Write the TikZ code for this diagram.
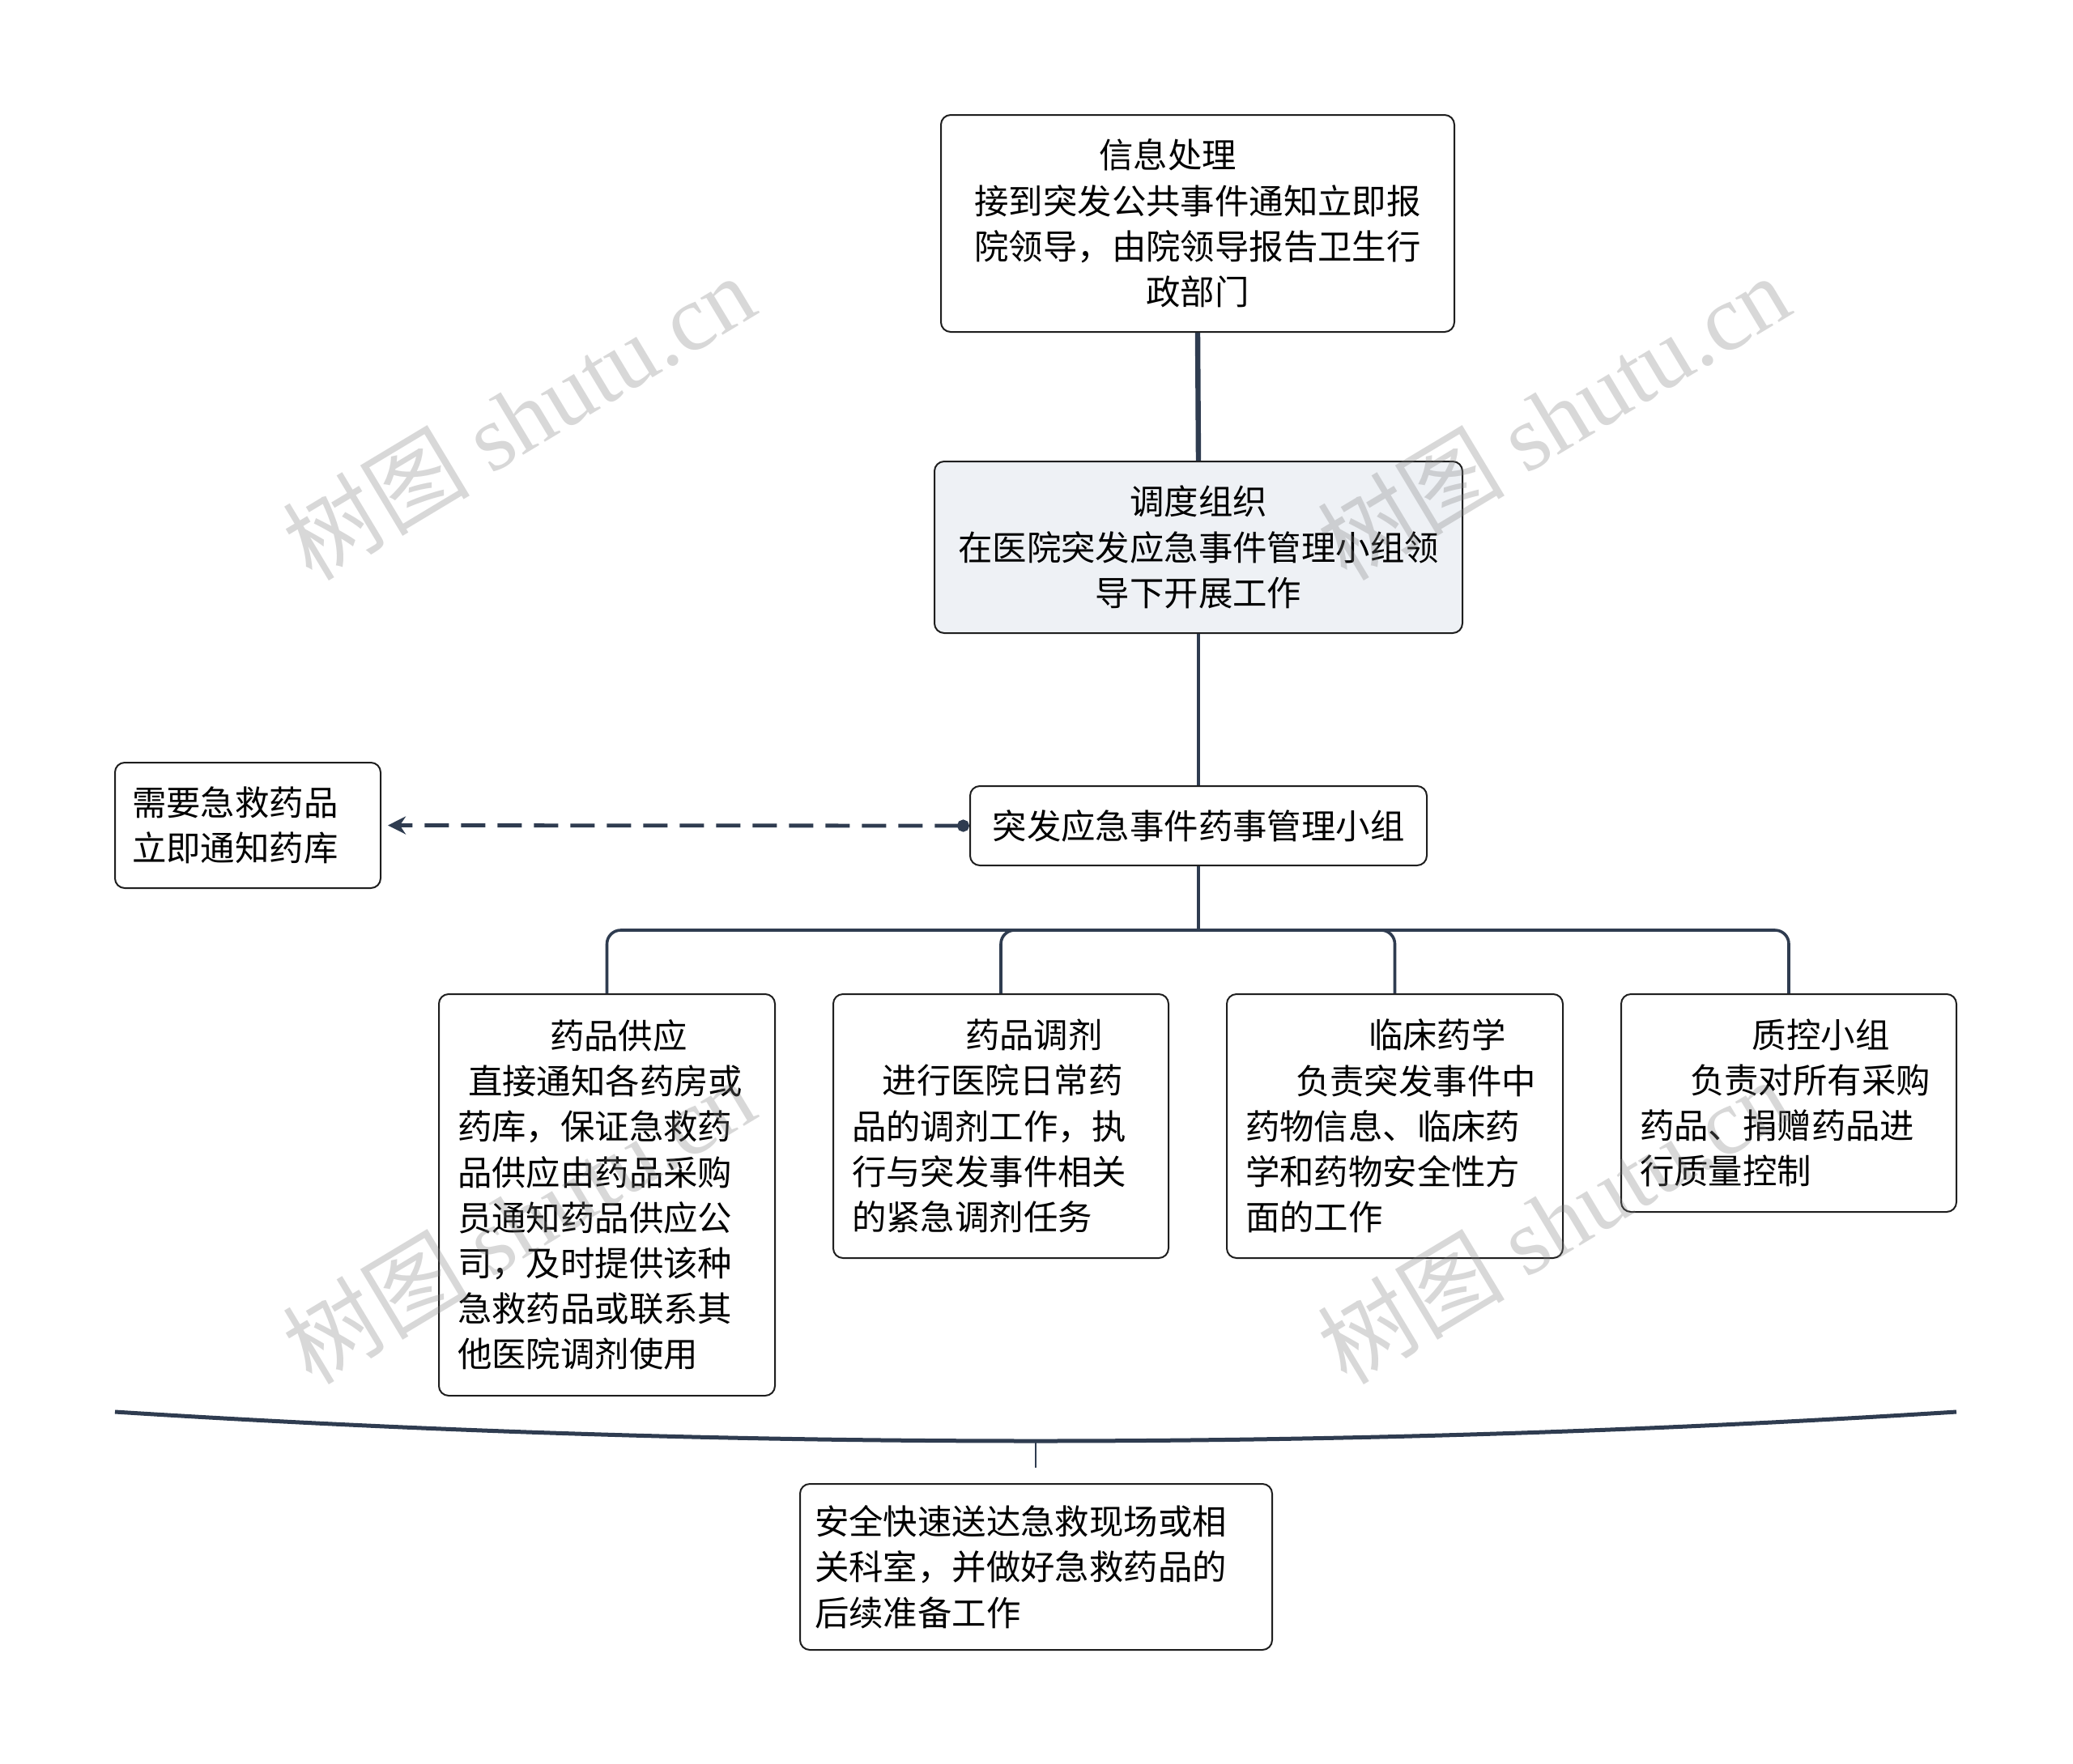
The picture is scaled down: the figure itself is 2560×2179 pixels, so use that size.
\documentclass[tikz,border=0pt]{standalone}
\usepackage{fontspec}
\setmainfont{Noto Sans CJK SC}
\newfontfamily\wmfont{Liberation Serif}
\newfontfamily\wmcjk{Noto Sans CJK SC}
\usetikzlibrary{arrows.meta}
\definecolor{lineC}{HTML}{2F3C50}
\definecolor{boxC}{HTML}{1E1E1E}
\definecolor{fillB}{HTML}{EEF1F5}
\tikzset{
  box/.style={draw=boxC, line width=1pt, rounded corners=6pt, inner ysep=0pt,
    font=\fontsize{21.2pt}{28.1pt}\selectfont, text=black},
  cbox/.style={box, align=center},
  lbox/.style={box, align=left},
  conn/.style={draw=lineC, line width=1.8pt},
  wm/.style={text=black!50, text opacity=0.3, rotate=31,
    font=\fontsize{58pt}{60pt}\selectfont}
}
\begin{document}
\begin{tikzpicture}[x=0.5pt,y=-0.5pt]
\useasboundingbox[fill=white] (0,0) rectangle (2560,2179);

% nodes
\node[cbox, minimum width=317pt, minimum height=134pt, text width=297pt, inner xsep=10pt]
  (n1) at (1479,276) {信息处理\rule{37pt}{0pt}\\ 接到突发公共事件通知立即报\\院领导，由院领导报告卫生行\\政部门};
\node[cbox, fill=fillB, minimum width=326pt, minimum height=106pt, text width=306pt, inner xsep=10pt]
  (n2) at (1480,676) {调度组织\\在医院突发应急事件管理小组领\\导下开展工作};
\node[cbox, minimum width=282pt, minimum height=49pt, text width=262pt, inner xsep=10pt]
  (n3) at (1480,1020) {突发应急事件药事管理小组};
\node[lbox, minimum width=164pt, minimum height=77.5pt, text width=143pt, inner xsep=10.5pt]
  (l) at (306,1019.5) {需要急救药品\\立即通知药库};

\node[lbox, minimum height=248pt, text width=184.5pt, inner xsep=11.5pt]
  (c1) at (749.5,1476) {\hspace*{57pt}药品供应\\\hspace*{6.5pt}直接通知各药房或\\药库，保证急救药\\品供应由药品采购\\员通知药品供应公\\司，及时提供该种\\急救药品或联系其\\他医院调剂使用};
\node[lbox, minimum height=163pt, text width=184pt, inner xsep=11.5pt]
  (c2) at (1236,1391) {\hspace*{70pt}药品调剂\\\hspace*{18.8pt}进行医院日常药\\品的调剂工作，执\\行与突发事件相关\\的紧急调剂任务};
\node[lbox, minimum height=163pt, text width=184.5pt, inner xsep=11.5pt]
  (c3) at (1722.5,1391) {\hspace*{76pt}临床药学\\\hspace*{31pt}负责突发事件中\\药物信息、临床药\\学和药物安全性方\\面的工作};
\node[lbox, minimum height=134.5pt, text width=184pt, inner xsep=11.5pt]
  (c4) at (2209,1362.5) {\hspace*{69.4pt}质控小组\\\hspace*{31pt}负责对所有采购\\药品、捐赠药品进\\行质量控制};

\node[lbox, minimum height=102.5pt, text width=273.5pt, inner xsep=9pt]
  (b) at (1279.5,1935.5) {安全快速送达急救现场或相\\关科室，并做好急救药品的\\后续准备工作};

% connectors
\draw[draw=lineC, line width=3.2pt] (n1.south) -- (n2.north);
\draw[draw=lineC, line width=1.8pt] (n2.south) -- (n3.north);
\coordinate (bus) at (1480,1149);
\draw[conn] (n3.south) -- (bus);
\foreach \c in {c1,c2,c3,c4}{
  \draw[conn, rounded corners=8.5pt] (bus) -| (\c.north);
}
\draw[draw=lineC, line width=2.4pt, dash pattern=on 15pt off 7.5pt,
  {Circle[length=7.5pt]}-{Stealth[length=11pt,width=11pt]}, shorten >=4pt]
  (n3.west) -- (l.east);

% bottom curve
\coordinate (cl) at (142,1744);
\coordinate (cr) at (2416,1744);
\coordinate (cmid) at (1279,1780);
\coordinate (cs) at (1279,1813);
\draw[draw=lineC, line width=2.5pt] (cl) .. controls (900,1792) and (1658,1792) .. (cr);
\draw[draw=lineC, line width=1pt] (cmid) -- (cs);

% watermarks
\node[wm] (w1) at (640,515) {{\wmcjk 树图} {\wmfont shutu.cn}};
\node[wm] (w2) at (1918,515) {{\wmcjk 树图} {\wmfont shutu.cn}};
\node[wm] (w3) at (640,1508) {{\wmcjk 树图} {\wmfont shutu.cn}};
\node[wm] (w4) at (1918,1508) {{\wmcjk 树图} {\wmfont shutu.cn}};
\end{tikzpicture}
\end{document}
